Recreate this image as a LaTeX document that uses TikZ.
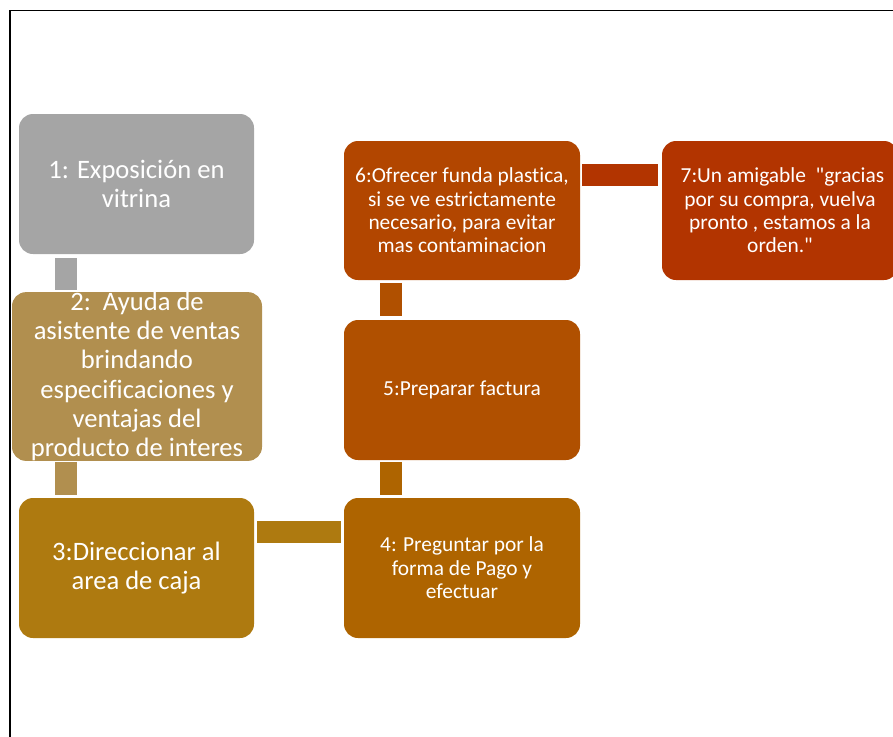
\documentclass[tikz,border=0pt]{standalone}
\usepackage{fontspec}
\newfontfamily\boxfont{Carlito}[Ligatures=NoCommon]
\usetikzlibrary{calc}
\definecolor{cGray}{HTML}{A5A5A5}
\definecolor{cKhaki}{HTML}{B18F4F}
\definecolor{cOchre}{HTML}{AE7A10}
\definecolor{cAmber}{HTML}{AE6400}
\definecolor{cRust}{HTML}{B05000}
\definecolor{cBrick}{HTML}{B24600}
\definecolor{cRed}{HTML}{B23400}
\tikzset{
  stepbox/.style={rounded corners=14pt, inner sep=0pt, align=center,
    text=white, minimum width=236pt, minimum height=140pt},
  bigtext/.style={font=\boxfont\fontsize{26.6}{29.2}\selectfont},
  smalltext/.style={font=\boxfont\fontsize{21.4}{23.4}\selectfont},
  bar/.style={line width=22pt, line cap=butt},
}
\begin{document}
\begin{tikzpicture}[x=1pt,y=-1pt]
\useasboundingbox (0,0) rectangle (893,736);
% page frame
\draw[line width=1.8pt] (10,760) -- (10,10.5) -- (920,10.5);

% steps
\node[stepbox, bigtext, fill=cGray, minimum width=235pt] (s1) at (136.5,184)
  {1: Exposición en\\vitrina};
\node[stepbox, bigtext, fill=cKhaki, minimum width=250pt, minimum height=167pt] (s2) at (137,376.5)
  {2:\ \ Ayuda de\\asistente de ventas\\brindando\\especificaciones y\\ventajas del\\producto de interes};
\node[stepbox, bigtext, fill=cOchre, minimum width=235pt] (s3) at (136.5,568)
  {3:Direccionar al\\area de caja};
\node[stepbox, smalltext, fill=cAmber] (s4) at (462,568)
  {4: Preguntar por la\\forma de Pago y\\efectuar};
\node[stepbox, smalltext, fill=cRust] (s5) at (462,390)
  {5:Preparar factura};
\node[stepbox, smalltext, fill=cBrick, minimum height=139pt] (s6) at (462,210.5)
  {6:Ofrecer funda plastica,\\si se ve estrictamente\\necesario, para evitar\\mas contaminacion};
\node[stepbox, smalltext, fill=cRed, minimum height=139pt] (s7) at (780,210.5)
  {\ 7:Un amigable\ \ "gracias\\por su compra, vuelva\\pronto , estamos a la\\orden."};

% connecting bars
\draw[bar, cGray]  ($(s1.south west)+(47,4)$) -- ($(s1.south west)+(47,36)$);
\draw[bar, cKhaki] ($(s3.north west)+(47,-36)$) -- ($(s3.north west)+(47,-3)$);
\draw[bar, cOchre] ($(s3.north east)+(3,34.5)$) -- ($(s4.north west)+(-3,34.5)$);
\draw[bar, cAmber] ($(s4.north west)+(47,-36)$) -- ($(s4.north west)+(47,-3)$);
\draw[bar, cRust]  ($(s5.north west)+(47,-37)$) -- ($(s5.north west)+(47,-4)$);
\draw[bar, cRed]   ($(s6.north east)+(2,34)$) -- ($(s7.north west)+(-4,34)$);
\end{tikzpicture}
\end{document}
